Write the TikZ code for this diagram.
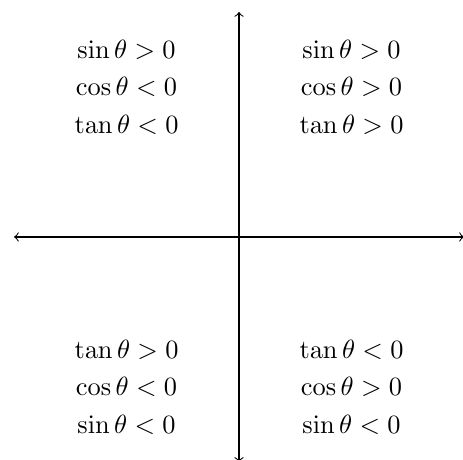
\documentclass[tikz,border=0pt]{standalone}
\begin{document}
\begin{tikzpicture}
\useasboundingbox (-3.187,-2.973) rectangle (2.987,3.16);
\tikzset{axis/.style={<->}, lbl/.style={inner sep=0pt}}
\coordinate (W) at (-3,0);
\coordinate (E) at (3,0);
\coordinate (S) at (0,-3);
\coordinate (N) at (0,3);
\draw[axis] (W) -- (E);
\draw[axis] (S) -- (N);
\node[lbl] (q1a) at (1.5,2.5) {$\sin\theta>0$};
\node[lbl] (q1b) at (1.5,2) {$\cos\theta>0$};
\node[lbl] (q1c) at (1.5,1.5) {$\tan\theta>0$};
\node[lbl] (q2a) at (-1.5,2.5) {$\sin\theta>0$};
\node[lbl] (q2b) at (-1.5,2) {$\cos\theta<0$};
\node[lbl] (q2c) at (-1.5,1.5) {$\tan\theta<0$};
\node[lbl] (q3a) at (-1.5,-1.5) {$\tan\theta>0$};
\node[lbl] (q3b) at (-1.5,-2) {$\cos\theta<0$};
\node[lbl] (q3c) at (-1.5,-2.5) {$\sin\theta<0$};
\node[lbl] (q4a) at (1.5,-1.5) {$\tan\theta<0$};
\node[lbl] (q4b) at (1.5,-2) {$\cos\theta>0$};
\node[lbl] (q4c) at (1.5,-2.5) {$\sin\theta<0$};
\end{tikzpicture}
\end{document}
